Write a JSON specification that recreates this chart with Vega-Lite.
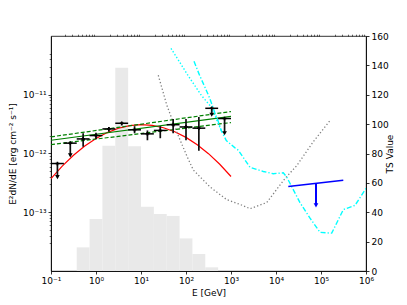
{
  "$schema": "https://vega.github.io/schema/vega-lite/v6.json",
  "width": 315,
  "height": 235,
  "autosize": {"type": "none"},
  "padding": {"left": 51, "top": 36, "right": 41, "bottom": 34},
  "background": "white",
  "config": {
    "font": "DejaVu Sans",
    "view": {"stroke": "#000", "strokeWidth": 0.8},
    "axis": {"labelFontSize": 9, "titleFontSize": 9, "labelColor": "#000", "titleColor": "#000", "tickColor": "#000", "domainColor": "#000", "titleFontWeight": "normal", "grid": false, "labelFont": "DejaVu Sans", "titleFont": "DejaVu Sans", "domainWidth": 0.8, "tickWidth": 0.8}
  },
  "datasets": {
    "hist": [
      {"elo": 0.3728, "ehi": 0.7197, "ts": 16.1},
      {"elo": 0.7197, "ehi": 1.3895, "ts": 35.4},
      {"elo": 1.3895, "ehi": 2.6827, "ts": 85.3},
      {"elo": 2.6827, "ehi": 5.1795, "ts": 138.4},
      {"elo": 5.1795, "ehi": 10, "ts": 85.0},
      {"elo": 10, "ehi": 19.307, "ts": 43.8},
      {"elo": 19.307, "ehi": 37.276, "ts": 38.8},
      {"elo": 37.276, "ehi": 71.969, "ts": 37.5},
      {"elo": 71.969, "ehi": 138.95, "ts": 22.2},
      {"elo": 138.95, "ehi": 268.27, "ts": 11.6},
      {"elo": 268.27, "ehi": 517.95, "ts": 2.5}
    ],
    "pts": [
      {"e": 0.1389, "elo": 0.1, "ehi": 0.1931, "f": 6.75e-13, "lo": 3.96e-13, "hi": 6.75e-13, "ul": true},
      {"e": 0.2683, "elo": 0.1931, "ehi": 0.3728, "f": 1.50e-12, "lo": 9.3e-13, "hi": 1.50e-12, "ul": true},
      {"e": 0.5179, "elo": 0.3728, "ehi": 0.7197, "f": 1.77e-12, "lo": 1.30e-12, "hi": 2.21e-12, "ul": false},
      {"e": 1.0, "elo": 0.7197, "ehi": 1.3895, "f": 2.02e-12, "lo": 1.77e-12, "hi": 2.26e-12, "ul": false},
      {"e": 1.931, "elo": 1.3895, "ehi": 2.6827, "f": 2.62e-12, "lo": 2.34e-12, "hi": 2.82e-12, "ul": false},
      {"e": 3.728, "elo": 2.6827, "ehi": 5.1795, "f": 3.27e-12, "lo": 3.02e-12, "hi": 3.45e-12, "ul": false},
      {"e": 7.197, "elo": 5.1795, "ehi": 10, "f": 2.53e-12, "lo": 2.21e-12, "hi": 2.92e-12, "ul": false},
      {"e": 13.895, "elo": 10, "ehi": 19.307, "f": 2.16e-12, "lo": 1.68e-12, "hi": 2.47e-12, "ul": false},
      {"e": 26.827, "elo": 19.307, "ehi": 37.276, "f": 2.47e-12, "lo": 1.82e-12, "hi": 2.92e-12, "ul": false},
      {"e": 51.795, "elo": 37.276, "ehi": 71.969, "f": 3.09e-12, "lo": 2.21e-12, "hi": 3.86e-12, "ul": false},
      {"e": 100, "elo": 71.969, "ehi": 138.95, "f": 2.83e-12, "lo": 1.68e-12, "hi": 3.86e-12, "ul": false},
      {"e": 193.07, "elo": 138.95, "ehi": 268.27, "f": 2.70e-12, "lo": 1.11e-12, "hi": 4.17e-12, "ul": false},
      {"e": 372.76, "elo": 268.27, "ehi": 517.95, "f": 5.88e-12, "lo": 4.56e-12, "hi": 5.88e-12, "ul": true},
      {"e": 719.69, "elo": 517.95, "ehi": 1000, "f": 3.94e-12, "lo": 2.21e-12, "hi": 3.94e-12, "ul": true}
    ],
    "curves": [
      {"s": "red", "e": 0.1, "f": 3.73e-13},
      {"s": "red", "e": 0.1778, "f": 6.10e-13},
      {"s": "red", "e": 0.3162, "f": 9.33e-13},
      {"s": "red", "e": 0.5623, "f": 1.34e-12},
      {"s": "red", "e": 1.0, "f": 1.80e-12},
      {"s": "red", "e": 1.778, "f": 2.27e-12},
      {"s": "red", "e": 3.162, "f": 2.69e-12},
      {"s": "red", "e": 5.623, "f": 2.98e-12},
      {"s": "red", "e": 10, "f": 3.09e-12},
      {"s": "red", "e": 17.78, "f": 3.01e-12},
      {"s": "red", "e": 31.62, "f": 2.74e-12},
      {"s": "red", "e": 56.23, "f": 2.34e-12},
      {"s": "red", "e": 100, "f": 1.88e-12},
      {"s": "red", "e": 177.8, "f": 1.41e-12},
      {"s": "red", "e": 316.2, "f": 9.93e-13},
      {"s": "red", "e": 562.3, "f": 6.56e-13},
      {"s": "red", "e": 1000, "f": 4.06e-13},
      {"s": "gsolid", "e": 0.1, "f": 1.68e-12},
      {"s": "gsolid", "e": 1000, "f": 4.30e-12},
      {"s": "gup", "e": 0.1, "f": 1.92e-12},
      {"s": "gup", "e": 1000, "f": 5.18e-12},
      {"s": "glow", "e": 0.1, "f": 1.42e-12},
      {"s": "glow", "e": 1000, "f": 3.36e-12},
      {"s": "grey", "e": 24.2, "f": 2.15e-11},
      {"s": "grey", "e": 37.3, "f": 6.71e-12},
      {"s": "grey", "e": 62.1, "f": 2.34e-12},
      {"s": "grey", "e": 104, "f": 9.12e-13},
      {"s": "grey", "e": 145, "f": 5.25e-13},
      {"s": "grey", "e": 341, "f": 2.70e-13},
      {"s": "grey", "e": 802, "f": 1.64e-13},
      {"s": "grey", "e": 1585, "f": 1.36e-13},
      {"s": "grey", "e": 2643, "f": 1.15e-13},
      {"s": "grey", "e": 6210, "f": 1.46e-13},
      {"s": "grey", "e": 15850, "f": 3.76e-13},
      {"s": "grey", "e": 28800, "f": 6.19e-13},
      {"s": "grey", "e": 67500, "f": 1.59e-12},
      {"s": "grey", "e": 158500, "f": 3.65e-12},
      {"s": "cdot", "e": 46.4, "f": 6.17e-11},
      {"s": "cdot", "e": 56.1, "f": 4.89e-11},
      {"s": "cdot", "e": 110.7, "f": 2.13e-11},
      {"s": "cdot", "e": 218.8, "f": 9.80e-12},
      {"s": "cdot", "e": 336, "f": 6.64e-12},
      {"s": "cdot", "e": 434, "f": 4.50e-12},
      {"s": "cdot", "e": 608, "f": 2.45e-12},
      {"s": "cdash", "e": 150.6, "f": 3.71e-11},
      {"s": "cdash", "e": 201, "f": 2.13e-11},
      {"s": "cdash", "e": 260.6, "f": 1.37e-11},
      {"s": "cdash", "e": 336, "f": 8.75e-12},
      {"s": "cdash", "e": 434, "f": 5.04e-12},
      {"s": "cdash", "e": 514, "f": 3.61e-12},
      {"s": "cdash", "e": 608, "f": 2.45e-12},
      {"s": "cdash", "e": 787, "f": 1.66e-12},
      {"s": "cdash", "e": 1208, "f": 1.26e-12},
      {"s": "cdash", "e": 1452, "f": 1.14e-12},
      {"s": "cdash", "e": 2643, "f": 5.83e-13},
      {"s": "cdash", "e": 5220, "f": 4.94e-13},
      {"s": "cdash", "e": 8710, "f": 4.53e-13},
      {"s": "cdash", "e": 14500, "f": 4.69e-13},
      {"s": "cdash", "e": 17300, "f": 3.97e-13},
      {"s": "cdash", "e": 34100, "f": 1.46e-13},
      {"s": "cdash", "e": 57000, "f": 7.94e-14},
      {"s": "cdash", "e": 95000, "f": 4.56e-14},
      {"s": "cdash", "e": 173000, "f": 4.41e-14},
      {"s": "cdash", "e": 313000, "f": 1.11e-13},
      {"s": "cdash", "e": 570000, "f": 1.31e-13},
      {"s": "cdash", "e": 1000000, "f": 2.55e-13},
      {"s": "blue", "e": 18750, "f": 2.75e-13},
      {"s": "blue", "e": 313000, "f": 3.52e-13}
    ],
    "bluearrow": [
      {"e": 77400, "hi": 3.1e-13, "lo": 1.31e-13}
    ]
  },
  "layer": [
    {
      "data": {"name": "hist"},
      "mark": {"type": "rect", "color": "#e9e9e9"},
      "encoding": {
        "x": {"field": "elo", "type": "quantitative", "scale": {"type": "log", "domain": [0.1, 1000000]}, "axis": null},
        "x2": {"field": "ehi"},
        "y": {"field": "ts", "type": "quantitative", "scale": {"domain": [0, 160], "nice": false, "zero": true},
              "axis": {"orient": "right", "values": [0, 20, 40, 60, 80, 100, 120, 140, 160], "title": "TS Value", "titleAngle": 270, "tickSize": 3, "labelPadding": 2, "titlePadding": 6}},
        "y2": {"datum": 0}
      }
    },
    {
      "resolve": {"axis": {"x": "independent", "y": "independent"}},
      "layer": [
        {
          "data": {"name": "curves"},
          "transform": [{"filter": "datum.s == 'red'"}],
          "mark": {"type": "line", "color": "#ff0000", "strokeWidth": 1.2, "clip": true},
          "encoding": {
            "x": {"field": "e", "type": "quantitative", "scale": {"type": "log", "domain": [0.1, 1000000]},
                  "axis": {"values": [0.1, 1, 10, 100, 1000, 10000, 100000, 1000000], "labelExpr": "'10' + ['⁻¹','⁰','¹','²','³','⁴','⁵','⁶'][round(log(datum.value)/LN10)+1]", "title": "E [GeV]", "tickSize": 3, "labelPadding": 2, "titlePadding": 3, "labelFlush": false}},
            "y": {"field": "f", "type": "quantitative", "scale": {"type": "log", "domain": [2.05e-14, 5.09e-11]},
                  "axis": {"orient": "left", "values": [1e-13, 1e-12, 1e-11], "labelExpr": "'10' + ['⁻¹³','⁻¹²','⁻¹¹'][round(log(datum.value)/LN10)+13]", "title": "E²dN/dE [erg cm⁻² s⁻¹]", "tickSize": 3, "labelPadding": 2, "titlePadding": 5}}
          }
        },
        {
          "data": {"name": "curves"},
          "transform": [{"filter": "datum.s == 'grey'"}],
          "mark": {"type": "line", "color": "#808080", "strokeWidth": 1.3, "strokeDash": [1.3, 2.2], "clip": true},
          "encoding": {
            "x": {"field": "e", "type": "quantitative",
                  "axis": {"values": [0.2,0.3,0.4,0.5,0.6,0.7,0.8,0.9,2,3,4,5,6,7,8,9,20,30,40,50,60,70,80,90,200,300,400,500,600,700,800,900,2000,3000,4000,5000,6000,7000,8000,9000,20000,30000,40000,50000,60000,70000,80000,90000,200000,300000,400000,500000,600000,700000,800000,900000], "labels": false, "domain": false, "title": null, "tickSize": 1.8, "tickWidth": 0.6}},
            "y": {"field": "f", "type": "quantitative",
                  "axis": {"orient": "left", "values": [3e-14,4e-14,5e-14,6e-14,7e-14,8e-14,9e-14,2e-13,3e-13,4e-13,5e-13,6e-13,7e-13,8e-13,9e-13,2e-12,3e-12,4e-12,5e-12,6e-12,7e-12,8e-12,9e-12,2e-11,3e-11,4e-11,5e-11], "labels": false, "domain": false, "title": null, "tickSize": 1.8, "tickWidth": 0.6}}
          }
        },
        {
          "data": {"name": "curves"},
          "transform": [{"filter": "datum.s == 'gsolid'"}],
          "mark": {"type": "line", "color": "#008000", "strokeWidth": 1.2, "clip": true},
          "encoding": {
            "x": {"field": "e", "type": "quantitative", "axis": null},
            "y": {"field": "f", "type": "quantitative", "axis": null}
          }
        },
        {
          "data": {"name": "curves"},
          "transform": [{"filter": "datum.s == 'gup' || datum.s == 'glow'"}],
          "mark": {"type": "line", "color": "#008000", "strokeWidth": 1.2, "strokeDash": [4, 2], "clip": true},
          "encoding": {
            "x": {"field": "e", "type": "quantitative", "axis": null},
            "y": {"field": "f", "type": "quantitative", "axis": null},
            "detail": {"field": "s"}
          }
        },
        {
          "data": {"name": "curves"},
          "transform": [{"filter": "datum.s == 'cdot'"}],
          "mark": {"type": "line", "color": "#00ffff", "strokeWidth": 1.4, "strokeDash": [1.4, 2.0], "clip": true},
          "encoding": {
            "x": {"field": "e", "type": "quantitative", "axis": null},
            "y": {"field": "f", "type": "quantitative", "axis": null}
          }
        },
        {
          "data": {"name": "curves"},
          "transform": [{"filter": "datum.s == 'cdash'"}],
          "mark": {"type": "line", "color": "#00ffff", "strokeWidth": 1.4, "strokeDash": [5, 2, 1.3, 2], "clip": true},
          "encoding": {
            "x": {"field": "e", "type": "quantitative", "axis": null},
            "y": {"field": "f", "type": "quantitative", "axis": null}
          }
        },
        {
          "data": {"name": "curves"},
          "transform": [{"filter": "datum.s == 'blue'"}],
          "mark": {"type": "line", "color": "#0000ff", "strokeWidth": 1.5, "clip": true},
          "encoding": {
            "x": {"field": "e", "type": "quantitative", "axis": null},
            "y": {"field": "f", "type": "quantitative", "axis": null}
          }
        },
        {
          "data": {"name": "bluearrow"},
          "mark": {"type": "rule", "color": "#0000ff", "strokeWidth": 2},
          "encoding": {
            "x": {"field": "e", "type": "quantitative", "axis": null},
            "y": {"field": "hi", "type": "quantitative", "axis": null},
            "y2": {"field": "lo"}
          }
        },
        {
          "data": {"name": "bluearrow"},
          "mark": {"type": "point", "shape": "triangle-down", "filled": true, "color": "#0000ff", "size": 22, "opacity": 1},
          "encoding": {
            "x": {"field": "e", "type": "quantitative", "axis": null},
            "y": {"field": "lo", "type": "quantitative", "axis": null}
          }
        },
        {
          "data": {"name": "pts"},
          "mark": {"type": "rule", "color": "#000", "strokeWidth": 1.5},
          "encoding": {
            "x": {"field": "elo", "type": "quantitative", "axis": null},
            "x2": {"field": "ehi"},
            "y": {"field": "f", "type": "quantitative", "axis": null}
          }
        },
        {
          "data": {"name": "pts"},
          "mark": {"type": "rule", "color": "#111", "strokeWidth": 1.7},
          "encoding": {
            "x": {"field": "e", "type": "quantitative", "axis": null},
            "y": {"field": "hi", "type": "quantitative", "axis": null},
            "y2": {"field": "lo"}
          }
        },
        {
          "data": {"name": "pts"},
          "transform": [{"filter": "datum.ul"}],
          "mark": {"type": "point", "shape": "triangle-down", "filled": true, "color": "#000", "size": 22, "opacity": 1},
          "encoding": {
            "x": {"field": "e", "type": "quantitative", "axis": null},
            "y": {"field": "lo", "type": "quantitative", "axis": null}
          }
        },
        {
          "data": {"name": "pts"},
          "mark": {"type": "point", "shape": "cross", "filled": true, "color": "#000", "size": 14, "opacity": 1},
          "encoding": {
            "x": {"field": "e", "type": "quantitative", "axis": null},
            "y": {"field": "f", "type": "quantitative", "axis": null}
          }
        }
      ]
    }
  ],
  "resolve": {"scale": {"y": "independent"}, "axis": {"x": "independent"}}
}
